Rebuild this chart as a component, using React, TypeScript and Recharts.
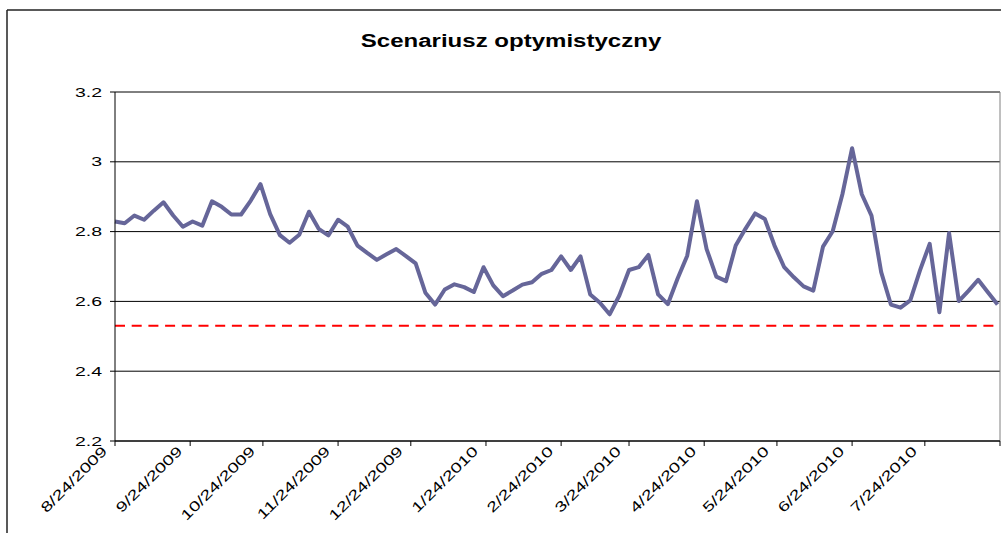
import React from 'react';
import { LineChart, Line, XAxis, YAxis, CartesianGrid, ReferenceLine } from 'recharts';

// Tick dates on the (date) category axis; the last one carries no label
const tickDates = [
  '8/24/2009', '9/24/2009', '10/24/2009', '11/24/2009', '12/24/2009', '1/24/2010',
  '2/24/2010', '3/24/2010', '4/24/2010', '5/24/2010', '6/24/2010', '7/24/2010', '8/24/2010',
];
const yTicks = [2.2, 2.4, 2.6, 2.8, 3, 3.2];

// Observations every 4 days starting at 8/24/2009
const sampleStepDays = 4;
const values = [
  2.829, 2.824, 2.846, 2.834, 2.86, 2.884, 2.846, 2.814, 2.829, 2.817,
  2.887, 2.871, 2.849, 2.849, 2.889, 2.936, 2.85, 2.79, 2.768, 2.791,
  2.857, 2.808, 2.789, 2.834, 2.814, 2.76, 2.739, 2.719, 2.735, 2.75,
  2.73, 2.709, 2.625, 2.591, 2.634, 2.649, 2.641, 2.627, 2.698, 2.646,
  2.615, 2.631, 2.648, 2.655, 2.679, 2.69, 2.729, 2.69, 2.729, 2.62,
  2.596, 2.563, 2.617, 2.69, 2.698, 2.733, 2.62, 2.592, 2.665, 2.731,
  2.887, 2.75, 2.671, 2.658, 2.76, 2.808, 2.852, 2.836, 2.76, 2.698,
  2.669, 2.643, 2.631, 2.757, 2.801, 2.907, 3.039, 2.907, 2.846, 2.684,
  2.591, 2.582, 2.603, 2.689, 2.765, 2.569, 2.796, 2.601, 2.63, 2.662,
  2.626, 2.591,
];
// red dashed threshold
const threshold = 2.53;

const toUtc = (s: string) => {
  const [m, d, y] = s.split('/').map(Number);
  return Date.UTC(y, m - 1, d);
};
const dayMs = 24 * 3600 * 1000;
const origin = toUtc(tickDates[0]);
const tickDays = tickDates.map(s => Math.round((toUtc(s) - origin) / dayMs));
const lastDay = tickDays[tickDays.length - 1];

const data = values.map((v, i) => ({ day: i * sampleStepDays, value: v }));

const FONT = '"Liberation Sans", Arial, sans-serif';

const XTick = (props: any) => {
  const { x, payload } = props;
  const idx = tickDays.indexOf(payload.value);
  if (idx === tickDays.length - 1) return null;
  return (
    <text
      transform={`translate(${x - 7}, ${452}) rotate(-45) scale(1.4,1)`}
      textAnchor="end"
      fontFamily={FONT}
      fontSize={14}
      fill="#000"
    >
      {tickDates[idx]}
    </text>
  );
};

const YTick = (props: any) => {
  const { y, payload } = props;
  return (
    <text
      transform={`translate(102, ${y + 4.5}) scale(1.5,1)`}
      textAnchor="end"
      fontFamily={FONT}
      fontSize={13}
      fill="#000"
    >
      {String(payload.value)}
    </text>
  );
};

const App: React.FC = () => {
  return (
    <div style={{ position: 'absolute', left: 0, top: 0, width: 1001, height: 533, overflow: 'hidden', background: '#fff' }}>
      <LineChart
        width={1001}
        height={533}
        data={data}
        margin={{ top: 92, right: 1, left: 55, bottom: 32 }}
      >
        <CartesianGrid vertical={false} stroke="#000" strokeWidth={1} />
        <XAxis
          dataKey="day"
          type="number"
          domain={[0, lastDay]}
          ticks={tickDays}
          interval={0}
          height={60}
          stroke="#000"
          tickSize={5}
          tick={<XTick />}
        />
        <YAxis
          type="number"
          domain={[2.2, 3.2]}
          ticks={yTicks}
          width={60}
          stroke="#000"
          tickSize={5}
          tick={<YTick />}
        />
        <ReferenceLine y={3.2} stroke="#808080" strokeWidth={1} />
        <ReferenceLine x={lastDay} stroke="#808080" strokeWidth={1} />
        <ReferenceLine y={threshold} stroke="#FF0000" strokeWidth={2} strokeDasharray="10 6.7" />
        <Line
          type="linear"
          dataKey="value"
          stroke="#666699"
          strokeWidth={4}
          strokeLinejoin="round"
          dot={false}
          activeDot={false}
          isAnimationActive={false}
        />
      </LineChart>
      <svg
        width={1001}
        height={533}
        style={{ position: 'absolute', left: 0, top: 0, pointerEvents: 'none' }}
      >
        <line x1={7} y1={10} x2={1001} y2={10} stroke="#222" strokeWidth={1.5} />
        <line x1={7} y1={10} x2={7} y2={533} stroke="#222" strokeWidth={1.5} />
        <text
          transform="translate(511, 47) scale(1.3,1)"
          textAnchor="middle"
          fontFamily={FONT}
          fontWeight="bold"
          fontSize={18.5}
          fill="#000"
        >
          Scenariusz optymistyczny
        </text>
      </svg>
    </div>
  );
};

export default App;
